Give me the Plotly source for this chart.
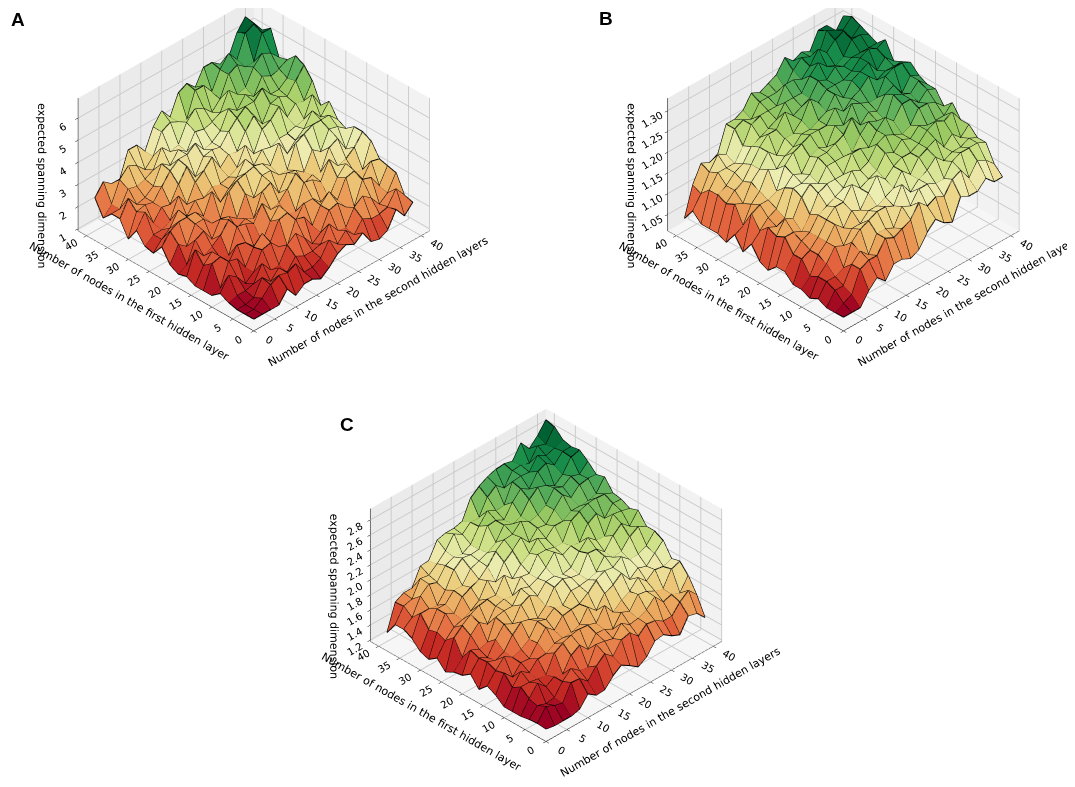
import plotly.graph_objects as go

# grid of node counts (both hidden layers)
nodes = [2, 4, 6, 8, 10, 12, 14, 16, 18, 20, 22, 24, 26, 28, 30, 32, 34, 36, 38, 40]
axis_ticks = [0, 5, 10, 15, 20, 25, 30, 35, 40]

# rows = first hidden layer, columns = second hidden layer
esd_a = [
    [1.0, 1.0, 1.0, 1.0, 1.5, 1.0, 1.3, 1.3, 1.1, 1.4, 1.8, 2.0, 1.8, 2.1, 1.5, 1.4, 1.6, 2.3, 1.8, 2.2],
    [1.0, 1.0, 1.3, 1.7, 1.9, 1.8, 2.0, 1.4, 1.4, 1.6, 2.2, 1.8, 2.2, 1.8, 2.3, 2.1, 2.1, 2.2, 2.8, 2.3],
    [1.0, 1.0, 1.1, 1.8, 1.4, 1.8, 1.4, 1.9, 1.7, 1.7, 1.8, 2.5, 2.0, 1.9, 2.6, 2.9, 2.6, 2.1, 2.4, 3.1],
    [1.1, 1.2, 1.2, 1.3, 2.0, 1.5, 1.5, 2.2, 2.5, 2.1, 1.6, 1.9, 2.7, 2.8, 2.4, 2.2, 3.2, 3.1, 2.5, 3.2],
    [1.3, 1.9, 1.6, 1.1, 1.4, 2.2, 2.3, 1.9, 1.7, 2.7, 2.6, 2.0, 2.7, 3.1, 2.5, 3.3, 3.4, 2.8, 3.4, 3.3],
    [1.0, 1.1, 2.1, 2.0, 1.4, 2.1, 2.5, 1.9, 2.7, 2.8, 2.2, 2.8, 2.8, 2.4, 2.4, 3.1, 3.5, 2.9, 2.8, 3.9],
    [1.0, 2.0, 2.1, 1.6, 2.2, 2.1, 1.7, 1.7, 2.4, 2.9, 2.3, 2.2, 3.3, 3.2, 2.9, 3.7, 3.2, 3.3, 3.6, 4.1],
    [1.0, 1.7, 2.1, 1.6, 1.5, 2.6, 2.5, 2.3, 3.0, 2.5, 2.6, 3.0, 3.5, 2.8, 3.0, 2.9, 3.8, 4.0, 3.3, 4.1],
    [1.2, 2.2, 1.7, 1.9, 2.2, 2.7, 2.1, 2.3, 2.1, 3.1, 3.3, 2.6, 3.3, 3.2, 2.9, 3.7, 3.4, 4.2, 4.1, 3.8],
    [1.1, 1.3, 2.2, 2.4, 1.8, 2.5, 2.4, 2.1, 3.0, 2.6, 3.4, 3.4, 3.0, 3.0, 4.0, 4.2, 4.4, 4.4, 4.4, 4.0],
    [1.3, 2.0, 1.7, 2.5, 2.5, 2.1, 2.1, 3.1, 3.4, 3.5, 3.6, 3.5, 3.2, 4.0, 3.3, 3.7, 4.0, 4.6, 4.1, 4.6],
    [1.9, 2.4, 2.6, 2.6, 2.6, 2.2, 3.1, 2.4, 2.8, 3.1, 3.7, 3.2, 3.7, 3.6, 3.8, 3.8, 3.9, 4.0, 4.9, 4.2],
    [1.4, 1.8, 2.1, 2.7, 2.2, 2.7, 2.6, 2.9, 2.8, 2.9, 3.1, 3.9, 3.3, 4.2, 4.4, 4.8, 4.1, 4.5, 4.4, 5.1],
    [1.5, 1.8, 1.8, 2.0, 2.9, 2.3, 3.1, 3.4, 3.8, 3.1, 3.5, 3.4, 4.1, 4.6, 4.0, 4.7, 4.8, 4.6, 5.1, 5.6],
    [2.0, 2.6, 1.9, 2.4, 2.3, 3.0, 3.6, 2.9, 3.6, 3.7, 3.6, 4.1, 4.5, 4.8, 4.8, 5.2, 4.7, 4.7, 5.0, 5.8],
    [1.4, 2.4, 2.5, 2.4, 2.9, 3.4, 3.7, 3.7, 4.0, 3.5, 3.6, 3.9, 4.7, 4.4, 4.9, 4.6, 5.3, 5.1, 5.2, 5.4],
    [2.1, 2.8, 2.3, 2.4, 2.7, 3.5, 3.2, 3.7, 3.4, 4.1, 4.0, 4.1, 4.3, 5.1, 4.7, 4.8, 5.5, 5.9, 5.7, 5.3],
    [2.1, 2.1, 2.8, 2.7, 2.8, 3.0, 3.8, 3.4, 3.5, 4.3, 4.7, 4.5, 4.1, 4.5, 5.4, 5.6, 5.3, 5.3, 6.4, 6.4],
    [1.7, 2.1, 3.0, 3.4, 3.2, 2.8, 3.2, 4.1, 4.3, 4.1, 4.0, 5.1, 5.1, 4.6, 5.4, 5.9, 5.4, 6.4, 6.6, 6.1],
    [2.4, 2.9, 2.6, 2.6, 3.7, 3.7, 3.2, 4.1, 4.6, 4.1, 5.0, 5.2, 4.8, 5.5, 5.5, 5.2, 5.3, 6.2, 6.7, 6.2],
]

esd_b = [
    [1.02, 1.02, 1.02, 1.05, 1.07, 1.05, 1.08, 1.08, 1.07, 1.08, 1.11, 1.13, 1.11, 1.10, 1.15, 1.14, 1.14, 1.16, 1.14, 1.14],
    [1.02, 1.03, 1.04, 1.09, 1.10, 1.10, 1.13, 1.12, 1.13, 1.14, 1.17, 1.15, 1.16, 1.15, 1.18, 1.19, 1.16, 1.19, 1.18, 1.16],
    [1.02, 1.05, 1.05, 1.09, 1.11, 1.09, 1.13, 1.13, 1.12, 1.16, 1.15, 1.18, 1.18, 1.17, 1.17, 1.20, 1.21, 1.21, 1.21, 1.20],
    [1.03, 1.06, 1.06, 1.07, 1.12, 1.14, 1.15, 1.16, 1.16, 1.15, 1.19, 1.16, 1.18, 1.19, 1.21, 1.19, 1.20, 1.20, 1.21, 1.20],
    [1.02, 1.06, 1.08, 1.11, 1.10, 1.13, 1.13, 1.15, 1.15, 1.16, 1.17, 1.20, 1.18, 1.21, 1.22, 1.23, 1.20, 1.22, 1.20, 1.22],
    [1.03, 1.05, 1.09, 1.11, 1.14, 1.12, 1.15, 1.14, 1.17, 1.20, 1.18, 1.20, 1.21, 1.21, 1.22, 1.24, 1.25, 1.24, 1.25, 1.22],
    [1.03, 1.08, 1.09, 1.11, 1.14, 1.16, 1.16, 1.19, 1.17, 1.18, 1.19, 1.22, 1.21, 1.23, 1.22, 1.24, 1.23, 1.23, 1.23, 1.25],
    [1.05, 1.08, 1.10, 1.11, 1.14, 1.15, 1.16, 1.17, 1.20, 1.19, 1.20, 1.23, 1.24, 1.23, 1.22, 1.23, 1.26, 1.26, 1.25, 1.23],
    [1.05, 1.11, 1.11, 1.10, 1.13, 1.17, 1.18, 1.18, 1.18, 1.22, 1.22, 1.21, 1.24, 1.26, 1.24, 1.27, 1.27, 1.25, 1.27, 1.26],
    [1.03, 1.10, 1.13, 1.12, 1.16, 1.18, 1.17, 1.20, 1.20, 1.20, 1.20, 1.23, 1.25, 1.24, 1.23, 1.28, 1.27, 1.26, 1.28, 1.26],
    [1.04, 1.11, 1.10, 1.11, 1.17, 1.17, 1.18, 1.21, 1.21, 1.22, 1.23, 1.26, 1.23, 1.25, 1.24, 1.27, 1.28, 1.25, 1.28, 1.27],
    [1.07, 1.09, 1.11, 1.12, 1.16, 1.18, 1.17, 1.20, 1.21, 1.20, 1.24, 1.23, 1.27, 1.26, 1.25, 1.25, 1.29, 1.30, 1.30, 1.29],
    [1.04, 1.12, 1.13, 1.13, 1.14, 1.19, 1.21, 1.22, 1.23, 1.23, 1.23, 1.26, 1.24, 1.26, 1.27, 1.29, 1.27, 1.28, 1.28, 1.28],
    [1.07, 1.08, 1.12, 1.14, 1.18, 1.17, 1.19, 1.20, 1.22, 1.22, 1.23, 1.24, 1.27, 1.25, 1.28, 1.29, 1.30, 1.27, 1.29, 1.27],
    [1.04, 1.12, 1.11, 1.15, 1.17, 1.20, 1.18, 1.21, 1.21, 1.23, 1.27, 1.25, 1.27, 1.27, 1.27, 1.28, 1.30, 1.31, 1.30, 1.31],
    [1.05, 1.11, 1.13, 1.14, 1.17, 1.20, 1.22, 1.22, 1.25, 1.23, 1.24, 1.25, 1.28, 1.27, 1.29, 1.28, 1.29, 1.29, 1.29, 1.29],
    [1.05, 1.12, 1.13, 1.15, 1.16, 1.19, 1.20, 1.21, 1.22, 1.25, 1.25, 1.25, 1.28, 1.30, 1.28, 1.27, 1.28, 1.31, 1.31, 1.30],
    [1.05, 1.12, 1.15, 1.15, 1.15, 1.18, 1.22, 1.23, 1.23, 1.23, 1.27, 1.27, 1.26, 1.28, 1.31, 1.29, 1.31, 1.32, 1.29, 1.31],
    [1.07, 1.10, 1.14, 1.17, 1.16, 1.21, 1.22, 1.21, 1.24, 1.24, 1.24, 1.24, 1.27, 1.29, 1.28, 1.27, 1.32, 1.31, 1.30, 1.32],
    [1.04, 1.11, 1.15, 1.14, 1.15, 1.21, 1.21, 1.22, 1.25, 1.24, 1.25, 1.26, 1.29, 1.27, 1.28, 1.27, 1.31, 1.31, 1.28, 1.31],
]

esd_c = [
    [1.22, 1.20, 1.20, 1.20, 1.23, 1.37, 1.29, 1.30, 1.42, 1.50, 1.43, 1.35, 1.42, 1.57, 1.59, 1.51, 1.46, 1.65, 1.62, 1.50],
    [1.23, 1.39, 1.34, 1.31, 1.52, 1.51, 1.41, 1.55, 1.65, 1.55, 1.71, 1.74, 1.63, 1.73, 1.71, 1.64, 1.64, 1.77, 1.86, 1.74],
    [1.22, 1.34, 1.30, 1.32, 1.47, 1.58, 1.49, 1.47, 1.71, 1.69, 1.66, 1.80, 1.72, 1.74, 1.79, 1.90, 1.77, 1.81, 1.76, 1.93],
    [1.20, 1.37, 1.51, 1.40, 1.47, 1.44, 1.63, 1.70, 1.58, 1.73, 1.72, 1.66, 1.82, 1.77, 1.93, 1.91, 1.85, 1.82, 2.02, 2.06],
    [1.20, 1.46, 1.46, 1.44, 1.43, 1.66, 1.73, 1.77, 1.79, 1.78, 1.74, 1.91, 1.76, 1.86, 1.91, 2.03, 1.92, 2.01, 1.99, 2.03],
    [1.20, 1.39, 1.54, 1.46, 1.58, 1.59, 1.66, 1.67, 1.68, 1.72, 1.89, 1.78, 1.95, 2.00, 2.09, 1.94, 2.03, 1.99, 2.10, 2.21],
    [1.29, 1.52, 1.40, 1.53, 1.52, 1.67, 1.81, 1.71, 1.84, 1.86, 1.87, 1.95, 2.06, 2.12, 2.10, 2.18, 2.08, 2.09, 2.14, 2.27],
    [1.35, 1.49, 1.61, 1.54, 1.58, 1.66, 1.83, 1.79, 1.88, 1.85, 1.98, 1.98, 2.00, 2.04, 2.19, 2.11, 2.13, 2.26, 2.33, 2.27],
    [1.24, 1.54, 1.50, 1.55, 1.71, 1.82, 1.79, 1.74, 1.85, 2.03, 2.08, 2.03, 2.01, 2.23, 2.22, 2.12, 2.27, 2.37, 2.27, 2.42],
    [1.38, 1.53, 1.47, 1.65, 1.79, 1.73, 1.92, 1.98, 1.91, 2.04, 2.05, 2.01, 2.04, 2.19, 2.31, 2.21, 2.20, 2.43, 2.41, 2.38],
    [1.30, 1.57, 1.52, 1.55, 1.82, 1.84, 1.84, 2.01, 1.97, 2.02, 2.10, 2.24, 2.14, 2.20, 2.18, 2.37, 2.44, 2.31, 2.45, 2.44],
    [1.28, 1.41, 1.64, 1.75, 1.66, 1.84, 1.87, 1.85, 2.04, 2.02, 2.21, 2.21, 2.18, 2.18, 2.41, 2.47, 2.51, 2.52, 2.51, 2.46],
    [1.22, 1.61, 1.71, 1.79, 1.85, 1.87, 1.86, 2.06, 1.95, 2.08, 2.16, 2.30, 2.23, 2.34, 2.34, 2.41, 2.41, 2.42, 2.45, 2.61],
    [1.34, 1.51, 1.62, 1.66, 1.71, 1.79, 1.99, 1.91, 2.11, 2.20, 2.31, 2.18, 2.31, 2.29, 2.43, 2.56, 2.46, 2.57, 2.59, 2.58],
    [1.26, 1.56, 1.74, 1.68, 1.84, 1.90, 1.94, 2.05, 2.19, 2.28, 2.29, 2.40, 2.33, 2.36, 2.43, 2.59, 2.54, 2.62, 2.58, 2.69],
    [1.30, 1.53, 1.74, 1.74, 1.86, 1.86, 2.02, 2.06, 2.11, 2.18, 2.35, 2.30, 2.34, 2.50, 2.60, 2.56, 2.49, 2.58, 2.75, 2.78],
    [1.41, 1.68, 1.68, 1.66, 1.80, 2.01, 2.10, 2.08, 2.09, 2.34, 2.35, 2.29, 2.46, 2.58, 2.51, 2.68, 2.73, 2.64, 2.76, 2.76],
    [1.47, 1.56, 1.78, 1.88, 1.84, 2.00, 2.05, 2.03, 2.09, 2.27, 2.41, 2.35, 2.36, 2.61, 2.62, 2.61, 2.77, 2.70, 2.74, 2.79],
    [1.47, 1.65, 1.68, 1.89, 1.87, 1.96, 2.07, 2.23, 2.16, 2.26, 2.26, 2.47, 2.56, 2.46, 2.63, 2.64, 2.60, 2.77, 2.73, 2.90],
    [1.30, 1.64, 1.70, 1.70, 1.93, 1.94, 2.15, 2.18, 2.18, 2.21, 2.46, 2.55, 2.61, 2.65, 2.66, 2.63, 2.81, 2.67, 2.78, 2.93],
]

z_ticks_a = [1, 2, 3, 4, 5, 6]
z_ticks_b = [1.05, 1.10, 1.15, 1.20, 1.25, 1.30]
z_ticks_c = [1.2, 1.4, 1.6, 1.8, 2.0, 2.2, 2.4, 2.6, 2.8]

font = dict(family="DejaVu Sans", size=11, color="black")

# viewing direction (from the 0/0 corner, ~35 deg elevation)
view = (-0.93, -0.93, 0.91)


def surface_traces(zgrid, scene):
    # flat-coloured quads (two triangles each), coloured by the mean of their corners,
    # plus black wire lines along every row and column of the grid
    n = len(nodes)
    xs, ys, zs = [], [], []
    for r in range(n):
        for c in range(n):
            xs.append(nodes[c])
            ys.append(nodes[r])
            zs.append(zgrid[r][c])
    ti, tj, tk, face = [], [], [], []
    for r in range(n - 1):
        for c in range(n - 1):
            a = r * n + c
            b = a + 1
            d = a + n
            e = d + 1
            avg = (zgrid[r][c] + zgrid[r][c + 1] + zgrid[r + 1][c] + zgrid[r + 1][c + 1]) / 4
            ti += [a, a]
            tj += [b, e]
            tk += [e, d]
            face += [avg, avg]
    mesh = go.Mesh3d(
        x=xs, y=ys, z=zs, i=ti, j=tj, k=tk, scene=scene,
        intensity=face, intensitymode="cell", colorscale="RdYlGn", showscale=False,
        flatshading=True,
        lighting=dict(ambient=0.93, diffuse=0.2, specular=0.0, roughness=1.0, fresnel=0.0),
        lightposition=dict(x=-100000, y=-40000, z=100000),
        hoverinfo="skip",
    )
    lx, ly, lz = [], [], []
    for r in range(n):
        lx += nodes + [None]
        ly += [nodes[r]] * n + [None]
        lz += list(zgrid[r]) + [None]
    for c in range(n):
        lx += [nodes[c]] * n + [None]
        ly += nodes + [None]
        lz += [zgrid[r][c] for r in range(n)] + [None]
    wire = go.Scatter3d(
        x=lx, y=ly, z=lz, mode="lines", scene=scene,
        line=dict(color="black", width=2), hoverinfo="skip", showlegend=False,
    )
    return [mesh, wire]


def axis(title, ticks, rng, fmt=None, bg="#eeeeee"):
    a = dict(
        title=dict(text=title, font=font),
        tickvals=ticks, range=rng, tickfont=font,
        showbackground=True, backgroundcolor=bg,
        gridcolor="#c8c8c8", showline=True, linecolor="black",
        ticks="outside", tickcolor="black", ticklen=4,
        zeroline=False, showspikes=False,
    )
    if fmt:
        a["tickformat"] = fmt
    return a


def scene(domain, zticks, zrange, zfmt, shift):
    cx, cy, cz = shift
    return dict(
        domain=domain,
        xaxis=axis("Number of nodes in the second hidden layers", axis_ticks, [0, 42], bg="#f2f2f2"),
        yaxis=axis("Number of nodes in the first hidden layer", axis_ticks, [0, 42], bg="#ebebeb"),
        zaxis=axis("expected spanning dimension", zticks, zrange, zfmt, bg="#f6f6f6"),
        aspectmode="manual", aspectratio=dict(x=1, y=1, z=0.65),
        camera=dict(
            eye=dict(x=view[0] + cx, y=view[1] + cy, z=view[2] + cz),
            center=dict(x=cx, y=cy, z=cz),
            projection=dict(type="orthographic"),
        ),
    )


fig = go.Figure()
for t in surface_traces(esd_a, "scene"):
    fig.add_trace(t)
for t in surface_traces(esd_b, "scene2"):
    fig.add_trace(t)
for t in surface_traces(esd_c, "scene3"):
    fig.add_trace(t)

letter = dict(family="Liberation Sans", size=19, color="black")
fig.update_layout(
    width=1075, height=787,
    margin=dict(l=0, r=0, t=0, b=0),
    paper_bgcolor="white",
    font=font,
    showlegend=False,
    scene=scene(dict(x=[0.0, 0.5], y=[0.368, 1.0]), z_ticks_a, [0.9, 6.9], None, (0.066, -0.066, -0.45)),
    scene2=scene(dict(x=[0.5, 1.0], y=[0.368, 1.0]), z_ticks_b, [1.01, 1.33], ".2f", (-0.081, 0.081, -0.45)),
    scene3=scene(dict(x=[0.25, 0.75], y=[0.0, 0.632]), z_ticks_c, [1.18, 2.95], ".1f", (0.0, 0.0, 0.14)),
    annotations=[
        dict(text="<b>A</b>", x=0.0093, y=0.9854, xref="paper", yref="paper", xanchor="center", yanchor="middle",
             showarrow=False, font=letter),
        dict(text="<b>B</b>", x=0.5567, y=0.987, xref="paper", yref="paper", xanchor="center", yanchor="middle",
             showarrow=False, font=letter),
        dict(text="<b>C</b>", x=0.3149, y=0.4708, xref="paper", yref="paper", xanchor="center", yanchor="middle",
             showarrow=False, font=letter),
    ],
)

fig.write_html("out.html")
